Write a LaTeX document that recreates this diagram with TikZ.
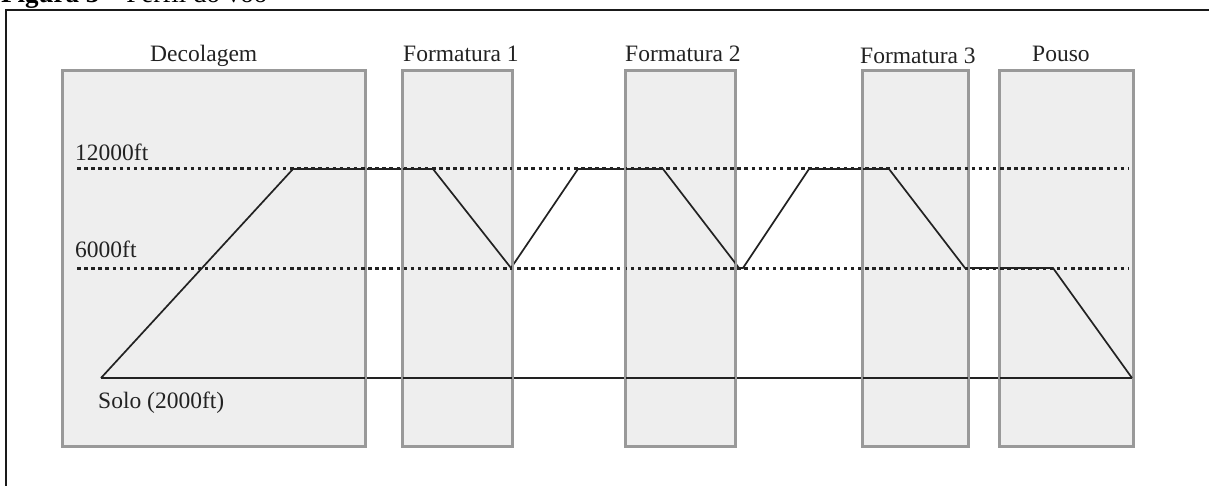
\documentclass[tikz,border=0pt]{standalone}
\usepackage{fontspec}
\setmainfont{Liberation Serif}
\definecolor{boxfill}{HTML}{EEEEEE}
\definecolor{boxgray}{HTML}{999999}
\definecolor{ink}{HTML}{222222}
\definecolor{frameink}{HTML}{1A1A1A}
\begin{document}
\begin{tikzpicture}[x=1pt,y=-1pt,
  phase/.style={fill=boxfill, draw=boxgray, line width=2pt, inner sep=0pt,
                anchor=north west, minimum height=375pt},
  boxline/.style={draw=boxgray, line width=2pt},
  lbl/.style={anchor=base west, inner sep=0pt, text=ink,
              font=\fontsize{23.5}{28}\selectfont},
  level/.style={draw=ink, line width=3pt, dash pattern=on 3.5pt off 3.6pt},
  profile/.style={draw=ink, line width=1.7pt, line join=miter},
  ground/.style={draw=ink, line width=2.2pt},
  frameline/.style={draw=frameink, line width=2.2pt}]
\useasboundingbox (0,0) rectangle (1209,486);

% caption above the frame
\node[anchor=base west, inner sep=0pt, text=black,
      font=\fontsize{27}{32}\selectfont] (caption) at (1,3)
      {\textbf{Figura 3} -- Perfil do vôo};

% outer frame
\coordinate (fbl) at (6,520);
\coordinate (ftl) at (6,10);
\coordinate (ftr) at (1240,10);
\draw[frameline] (fbl) -- (ftl) -- (ftr);

% flight phases
\node[phase, minimum width=302pt] (dec) at (62,70) {};
\node[phase, minimum width=109pt] (f1)  at (402,70) {};
\node[phase, minimum width=109pt] (f2)  at (625,70) {};
\node[phase, minimum width=105pt] (f3)  at (862,70) {};
\node[phase, minimum width=133pt] (pou) at (999,70) {};

% phase titles
\node[lbl] (tdec) at (150,61.5) {Decolagem};
\node[lbl] (tf1)  at (403,62) {Formatura 1};
\node[lbl] (tf2)  at (625,62) {Formatura 2};
\node[lbl] (tf3)  at (860,64) {Formatura 3};
\node[lbl] (tpou) at (1032,62) {Pouso};

% altitude references
\node[lbl] (a12) at (75,160.5) {12000ft};
\node[lbl] (a6)  at (75,258) {6000ft};
\node[lbl] (a2)  at (98,408) {Solo (2000ft)};

\coordinate (h12a) at (77,169);
\coordinate (h12b) at (1128,169);
\coordinate (h6a)  at (77,268);
\coordinate (h6b)  at (1128,268);
\draw[level] (h12a) -- (h12b);
\draw[level] (h6a) -- (h6b);

% flight profile
\coordinate (p0)  at (101,378);
\coordinate (p1)  at (293,169);
\coordinate (p2)  at (433,169);
\coordinate (p3)  at (511,268);
\coordinate (p4)  at (578,169);
\coordinate (p5)  at (663,169);
\coordinate (p6)  at (739,268);
\coordinate (p7)  at (743,268);
\coordinate (p8)  at (809,169);
\coordinate (p9)  at (889,169);
\coordinate (p10) at (965,268);
\coordinate (p11) at (1053,268);
\coordinate (p12) at (1132,378);
\draw[ground] (p0) -- (p12);
\draw[profile] (p0) -- (p1) -- (p2) -- (p3) -- (p4) -- (p5) -- (p6) -- (p7)
  -- (p8) -- (p9) -- (p10) -- (p11) -- (p12);

% phase outlines on top of the lines
\foreach \n in {dec,f1,f2,f3,pou}
  \draw[boxline] (\n.south west) rectangle (\n.north east);
\end{tikzpicture}
\end{document}
